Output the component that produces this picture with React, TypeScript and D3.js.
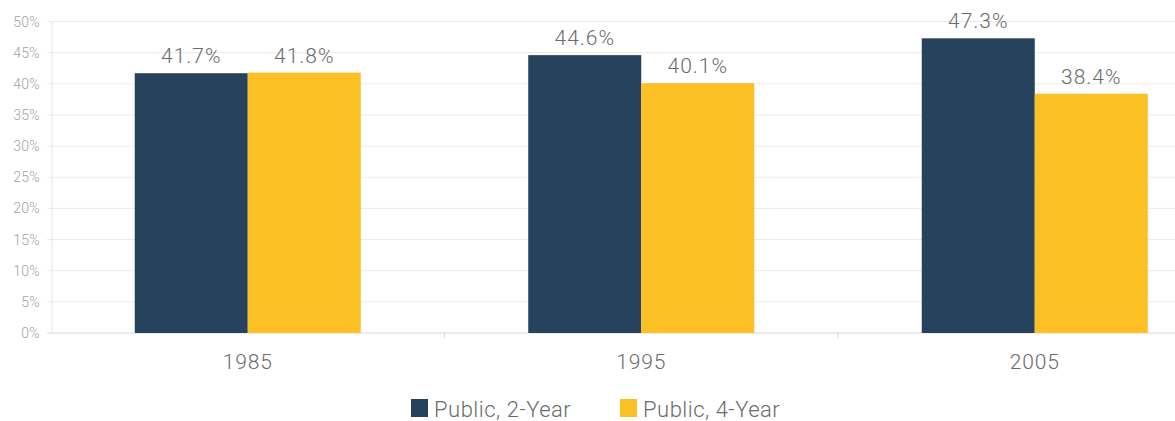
import React from "react";
import * as d3 from "d3";

const categories = ["1985", "1995", "2005"];
const seriesNames = ["Public, 2-Year", "Public, 4-Year"];
const public2Year = [41.7, 44.6, 47.3];
const public4Year = [41.8, 40.1, 38.4];
const yTicks = [0, 5, 10, 15, 20, 25, 30, 35, 40, 45, 50];
const colors = ["#26425d", "#fcbf24"];

export default function App() {
  const W = 1175, H = 421;
  const left = 51, step = 393.5;
  const x = d3.scaleBand<string>().domain(categories).range([left, left + step * 3]).paddingInner(0).paddingOuter(0);
  const y = d3.scaleLinear().domain([0, 50]).range([333, 21.5]);
  const barW = 113;
  const series = [public2Year, public4Year];
  const font = "Roboto, 'Open Sans', sans-serif";
  return (
    <svg width={W} height={H} style={{ position: "absolute", top: 0, left: 0, background: "#fff" }} fontFamily={font}>
      {yTicks.map((t) => (
        <g key={t}>
          <line x1={left - 4} x2={W} y1={y(t)} y2={y(t)} stroke={t === 0 ? "#d8d8d8" : "#ebebeb"} strokeWidth={1} />
          <text x={40} y={y(t) + 5} textAnchor="end" fontSize={14} fill="#a3a3a3" fontWeight={300} letterSpacing={0.3}>{t}%</text>
        </g>
      ))}
      <line x1={left + 1} x2={left + 1} y1={y(50)} y2={y(0)} stroke="#e6e6e6" />
      {categories.slice(1).map((c) => (
        <line key={c} x1={x(c)!} x2={x(c)!} y1={y(0)} y2={y(0) + 5} stroke="#d8d8d8" />
      ))}
      {categories.map((c, i) => {
        const cx = x(c)! + x.bandwidth() / 2;
        return (
          <g key={c}>
            {series.map((s, j) => {
              const bx = cx - barW + j * barW;
              return (
                <g key={j}>
                  <rect x={bx} y={y(s[i])} width={barW} height={y(0) - y(s[i])} fill={colors[j]} />
                  <text x={bx + barW / 2} y={y(s[i]) - 10} textAnchor="middle" fontSize={21} fill="#6b6b6b" fontWeight={300} letterSpacing={1}>{s[i].toFixed(1)}%</text>
                </g>
              );
            })}
            <text x={cx} y={369} textAnchor="middle" fontSize={21} fill="#6b6b6b" fontWeight={300} letterSpacing={0.8}>{c}</text>
          </g>
        );
      })}
      {seriesNames.map((n, j) => {
        const lx = j === 0 ? 411 : 620;
        return (
          <g key={n}>
            <rect x={lx} y={399} width={17} height={18} fill={colors[j]} />
            <text x={lx + 23} y={417} fontSize={22} fill="#6b6b6b" fontWeight={300} letterSpacing={0.5}>{n}</text>
          </g>
        );
      })}
    </svg>
  );
}
